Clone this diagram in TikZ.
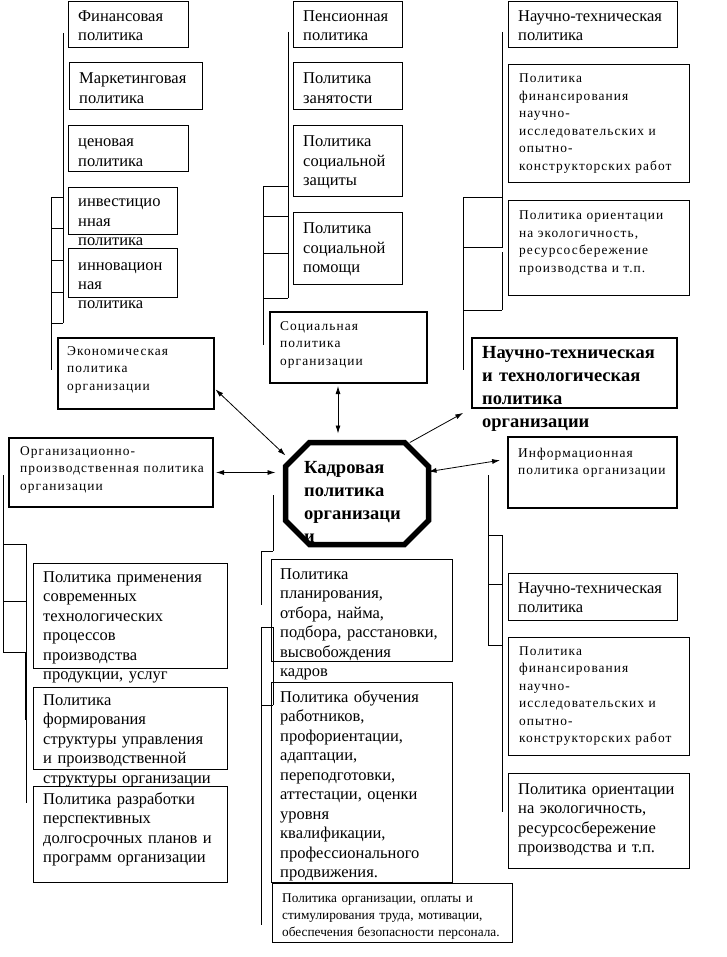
\documentclass[tikz,border=0pt]{standalone}
\usepackage{fontspec}
\setmainfont{Liberation Serif}
\newfontfamily\spaced[LetterSpace=8]{Liberation Serif}
\usetikzlibrary{arrows.meta}

\begin{document}
\begin{tikzpicture}[x=1pt,y=-1pt,
    >={Latex[length=8pt,width=5pt]},
    plainbox/.style={draw=black,line width=1pt,anchor=north west,inner sep=0pt,outer sep=0pt},
    mainbox/.style={plainbox,line width=2.8pt},
    txt/.style={anchor=base west,inner sep=0pt,text width=260pt,align=left,font=\fontsize{16.5}{19.5}\selectfont},
    smalltxt/.style={txt,font=\spaced\fontsize{13.4}{17.5}\selectfont},
    boldtxt/.style={txt,font=\bfseries\fontsize{18.5}{23.3}\selectfont},
    tinytxt/.style={txt,font=\fontsize{13.3}{17}\selectfont},
    brk/.style={line width=1pt},
    arr/.style={line width=0.8pt}
  ]
  \useasboundingbox (0,0) rectangle (726,957);

  % economic group
  \node[plainbox,minimum width=120pt,minimum height=46pt] (fin) at (68,2) {};
  \node[txt] (fin-t) at (78,21.5) {Финансовая\\политика};
  \node[plainbox,minimum width=133pt,minimum height=47pt] (mark) at (69,63) {};
  \node[txt] (mark-t) at (79,84) {Маркетинговая\\политика};
  \node[plainbox,minimum width=120pt,minimum height=46pt] (cen) at (68,126) {};
  \node[txt] (cen-t) at (78,147) {ценовая\\политика};
  \node[plainbox,minimum width=109pt,minimum height=47pt] (inv) at (68,188) {};
  \node[txt] (inv-t) at (78,207) {инвестицио\\нная\\политика};
  \node[plainbox,minimum width=109pt,minimum height=48pt] (innov) at (68,249) {};
  \node[txt] (innov-t) at (78,270) {инновацион\\ная\\политика};
  \node[mainbox,minimum width=156pt,minimum height=71pt] (econ) at (58,338) {};
  \node[smalltxt] (econ-t) at (67,355) {Экономическая\\политика\\организации};
  \draw[brk] (63,33) -- (63,323);
  \draw[brk] (51,198) -- (51,370);
  \foreach \y in {198,229,261,292,323}
    \draw[brk] (51,\y) -- (63,\y);

  % social group
  \node[plainbox,minimum width=109pt,minimum height=46pt] (pens) at (293,2) {};
  \node[txt] (pens-t) at (303,21.5) {Пенсионная\\политика};
  \node[plainbox,minimum width=109pt,minimum height=47pt] (zan) at (293,63) {};
  \node[txt] (zan-t) at (303,84) {Политика\\занятости};
  \node[plainbox,minimum width=109pt,minimum height=71pt] (szash) at (293,126) {};
  \node[txt] (szash-t) at (303,147) {Политика\\социальной\\защиты};
  \node[plainbox,minimum width=109pt,minimum height=71pt] (spom) at (293,213) {};
  \node[txt] (spom-t) at (303,234) {Политика\\социальной\\помощи};
  \node[mainbox,minimum width=157pt,minimum height=71pt] (soc) at (270,312) {};
  \node[smalltxt] (soc-t) at (280,330) {Социальная\\политика\\организации};
  \draw[brk] (288,32) -- (288,298);
  \draw[brk] (263,187) -- (263,345);
  \foreach \y in {187,217,254,298}
    \draw[brk] (263,\y) -- (288,\y);

  % scientific group
  \node[plainbox,minimum width=169pt,minimum height=46pt] (nta) at (508,2) {};
  \node[txt] (nta-t) at (518,21.5) {Научно-техническая\\политика};
  \node[plainbox,minimum width=181pt,minimum height=118pt] (fina) at (508,65) {};
  \node[smalltxt] (fina-t) at (519,83) {Политика\\финансирования\\научно-\\исследовательских и\\опытно-\\конструкторских работ};
  \node[plainbox,minimum width=181pt,minimum height=94pt] (ecola) at (508,201) {};
  \node[smalltxt] (ecola-t) at (519,220) {Политика ориентации\\на экологичность,\\ресурсосбережение\\производства и т.п.};
  \node[mainbox,minimum width=205pt,minimum height=70pt] (ntt) at (472,338) {};
  \node[boldtxt] (ntt-t) at (482,358) {Научно-техническая\\и технологическая\\политика\\организации};
  \draw[brk] (502,32) -- (502,248);
  \draw[brk] (502,252) -- (502,310);
  \draw[brk] (463,198) -- (463,370);
  \foreach \y in {198,248,310}
    \draw[brk] (463,\y) -- (502,\y);

  % centre
  \node[minimum width=143pt,minimum height=102pt,anchor=north west,inner sep=0pt,outer sep=0pt] (kadr) at (285.5,442.5) {};
  \draw[line width=5.5pt] ([xshift=24pt]kadr.north west) -- ([xshift=-24pt]kadr.north east)
    -- ([yshift=-24pt]kadr.north east) -- ([yshift=24pt]kadr.south east)
    -- ([xshift=-24pt]kadr.south east) -- ([xshift=24pt]kadr.south west)
    -- ([yshift=24pt]kadr.south west) -- ([yshift=-24pt]kadr.north west) -- cycle;
  \node[boldtxt] (kadr-t) at (304,473) {Кадровая\\политика\\организаци\\и};

  % production group
  \node[mainbox,minimum width=204pt,minimum height=69pt] (org) at (9,438) {};
  \node[smalltxt] (org-t) at (20,455) {Организационно-\\производственная политика\\организации};
  \node[plainbox,minimum width=194pt,minimum height=105pt] (prim) at (33,563) {};
  \node[txt] (prim-t) at (43,582) {Политика применения\\современных\\технологических\\процессов\\производства\\продукции, услуг};
  \node[plainbox,minimum width=194pt,minimum height=82pt] (form) at (33,687) {};
  \node[txt] (form-t) at (43,705) {Политика\\формирования\\структуры управления\\и производственной\\структуры организации};
  \node[plainbox,minimum width=194pt,minimum height=96pt] (razr) at (33,786) {};
  \node[txt] (razr-t) at (43,804) {Политика разработки\\перспективных\\долгосрочных планов и\\программ организации};
  \draw[brk] (3,475) -- (3,652);
  \draw[brk] (26,544) -- (26,803);
  \draw[line width=2pt] (26,652) -- (26,720);
  \foreach \y in {544,601,652}
    \draw[brk] (3,\y) -- (26,\y);

  % personnel group
  \node[plainbox,minimum width=181pt,minimum height=102pt] (plan) at (271,559) {};
  \node[txt] (plan-t) at (280,579) {Политика\\планирования,\\отбора, найма,\\подбора, расстановки,\\высвобождения\\кадров};
  \node[plainbox,minimum width=181pt,minimum height=200pt] (obuch) at (271,682) {};
  \node[txt] (obuch-t) at (280,702) {Политика обучения\\работников,\\профориентации,\\адаптации,\\переподготовки,\\аттестации, оценки\\уровня\\квалификации,\\профессионального\\продвижения.};
  \node[plainbox,minimum width=240pt,minimum height=59pt] (opl) at (272,883) {};
  \node[tinytxt] (opl-t) at (282,902) {Политика организации, оплаты и\\стимулирования труда, мотивации,\\обеспечения безопасности персонала.};
  \draw[brk] (273,495) -- (273,551);
  \draw[brk] (261,551) -- (261,605);
  \draw[brk] (273,627) -- (273,705);
  \draw[brk] (261,627) -- (261,925);
  \foreach \y in {551,627,705}
    \draw[brk] (261,\y) -- (273,\y);

  % information group
  \node[mainbox,minimum width=169pt,minimum height=71pt] (info) at (508,437) {};
  \node[smalltxt] (info-t) at (518,457) {Информационная\\политика организации};
  \node[plainbox,minimum width=169pt,minimum height=47pt] (ntb) at (508,573) {};
  \node[txt] (ntb-t) at (518,593) {Научно-техническая\\политика};
  \node[plainbox,minimum width=181pt,minimum height=118pt] (finb) at (508,637) {};
  \node[smalltxt] (finb-t) at (519,655) {Политика\\финансирования\\научно-\\исследовательских и\\опытно-\\конструкторских работ};
  \node[plainbox,minimum width=181pt,minimum height=95pt] (ecolb) at (508,773) {};
  \node[txt] (ecolb-t) at (518,794) {Политика ориентации\\на экологичность,\\ресурсосбережение\\производства и т.п.};
  \draw[brk] (488,475) -- (488,645);
  \draw[brk] (502,535) -- (502,812);
  \foreach \y in {535,584,645}
    \draw[brk] (488,\y) -- (502,\y);

  % arrows
  \draw[arr,<->,shorten <=2pt] ([yshift=-14.5pt]econ.east) -- (kadr.152);
  \draw[arr,<->,shorten <=3pt,shorten >=9pt] ([xshift=-10.5pt]soc.south) -- ([xshift=-10.5pt]soc.south |- kadr.north);
  \draw[arr,->,shorten >=10pt] (kadr.44) -- (ntt.south west);
  \draw[arr,<->,shorten <=3pt,shorten >=10pt] (org.east) -- (org.east -| kadr.west);
  \draw[arr,<->,shorten >=8pt] (kadr.17) -- ([yshift=13.5pt]info.west);
\end{tikzpicture}
\end{document}
